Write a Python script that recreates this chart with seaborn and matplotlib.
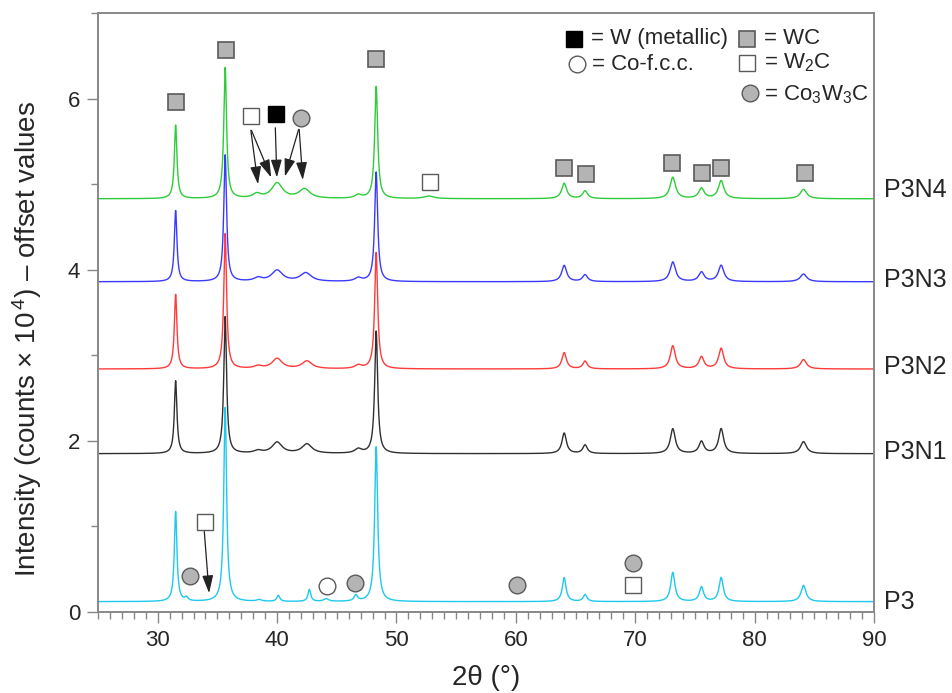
import numpy as np
import pandas as pd
import matplotlib
matplotlib.use("Agg")
import matplotlib.pyplot as plt
import seaborn as sns
from matplotlib.ticker import MultipleLocator

# ---- diffraction data: baseline offset, peak centres (2theta), net heights, FWHM ----
samples = ["P3", "P3N1", "P3N2", "P3N3", "P3N4"]
colors = ["#1ec8ee", "#303030", "#ff3a3a", "#3a3aff", "#2ecc3a"]
baselines = [0.12, 1.85, 2.84, 3.86, 4.83]

p3_pos = [31.5, 32.4, 35.65, 38.5, 40.1, 42.7, 44.1, 46.6, 48.3, 64.05, 65.8, 73.15, 75.55, 77.2, 84.1]
p3_hgt = [1.05, 0.04, 2.27, 0.02, 0.07, 0.14, 0.03, 0.07, 1.81, 0.28, 0.08, 0.34, 0.17, 0.28, 0.19]
p3_fwhm = [0.26, 0.3, 0.28, 0.5, 0.3, 0.28, 0.5, 0.35, 0.3, 0.38, 0.38, 0.42, 0.42, 0.42, 0.5]

p3n1_pos = [31.5, 35.65, 38.4, 40.0, 42.5, 46.8, 48.3, 64.05, 65.8, 73.15, 75.55, 77.2, 84.1]
p3n1_hgt = [0.85, 1.60, 0.03, 0.13, 0.11, 0.05, 1.43, 0.24, 0.10, 0.29, 0.14, 0.29, 0.14]
p3n1_fwhm = [0.26, 0.28, 0.8, 1.0, 1.0, 0.7, 0.3, 0.45, 0.45, 0.5, 0.5, 0.5, 0.6]

p3n2_pos = [31.5, 35.65, 38.4, 40.0, 42.5, 46.8, 48.3, 64.05, 65.8, 73.15, 75.55, 77.2, 84.1]
p3n2_hgt = [0.87, 1.58, 0.03, 0.12, 0.09, 0.04, 1.36, 0.19, 0.09, 0.27, 0.14, 0.24, 0.11]
p3n2_fwhm = [0.26, 0.28, 0.8, 1.0, 1.0, 0.7, 0.3, 0.45, 0.45, 0.5, 0.5, 0.5, 0.6]

p3n3_pos = [31.5, 35.65, 38.4, 40.0, 42.4, 46.8, 48.3, 64.05, 65.8, 73.15, 75.55, 77.2, 84.1]
p3n3_hgt = [0.83, 1.48, 0.04, 0.13, 0.10, 0.04, 1.28, 0.19, 0.08, 0.23, 0.11, 0.19, 0.09]
p3n3_fwhm = [0.26, 0.28, 0.8, 1.1, 1.1, 0.7, 0.3, 0.5, 0.5, 0.55, 0.55, 0.55, 0.65]

p3n4_pos = [31.5, 35.65, 38.3, 40.0, 42.3, 46.8, 48.3, 52.7, 64.05, 65.8, 73.15, 75.55, 77.2, 84.1]
p3n4_hgt = [0.86, 1.53, 0.05, 0.18, 0.11, 0.04, 1.31, 0.03, 0.18, 0.09, 0.25, 0.12, 0.21, 0.11]
p3n4_fwhm = [0.26, 0.28, 0.8, 1.1, 1.1, 0.7, 0.3, 1.0, 0.5, 0.5, 0.55, 0.55, 0.55, 0.65]

peak_tables = [
    (p3_pos, p3_hgt, p3_fwhm),
    (p3n1_pos, p3n1_hgt, p3n1_fwhm),
    (p3n2_pos, p3n2_hgt, p3n2_fwhm),
    (p3n3_pos, p3n3_hgt, p3n3_fwhm),
    (p3n4_pos, p3n4_hgt, p3n4_fwhm),
]

# ---- phase markers: (2theta, y) ----
wc_x = [31.5, 35.7, 48.3, 64.0, 65.9, 73.1, 75.6, 77.2, 84.2]
wc_y = [5.96, 6.57, 6.47, 5.19, 5.12, 5.25, 5.13, 5.19, 5.13]
w2c_x = [37.8, 52.8, 33.95, 69.85]
w2c_y = [5.80, 5.03, 1.05, 0.32]
w_x = [39.9]
w_y = [5.82]
co3w3c_x = [42.0, 32.7, 46.5, 60.1, 69.8]
co3w3c_y = [5.78, 0.42, 0.34, 0.32, 0.57]
cofcc_x = [44.2]
cofcc_y = [0.30]

# arrows: (start x, start y, end x, end y)
arrows = [
    (37.8, 5.63, 38.4, 5.00),
    (37.85, 5.63, 39.5, 5.08),
    (39.85, 5.66, 39.98, 5.08),
    (41.8, 5.64, 40.65, 5.09),
    (41.85, 5.64, 42.15, 5.05),
    (33.9, 0.94, 34.3, 0.22),
]

# ---- build long-form table of the patterns ----
tt = np.linspace(25, 90, 6501)
frames = []
for name, base, (pos, hgt, fw) in zip(samples, baselines, peak_tables):
    y = np.full_like(tt, base)
    for p, h, w in zip(pos, hgt, fw):
        g = w / 2.0
        y += h * g**2 / ((tt - p) ** 2 + g**2)
    frames.append(pd.DataFrame({"two_theta": tt, "intensity": y, "sample": name}))
df = pd.concat(frames, ignore_index=True)

sns.set_theme(style="white")
plt.rcParams["font.family"] = ["Liberation Sans", "DejaVu Sans"]
plt.rcParams["mathtext.fontset"] = "custom"
plt.rcParams["mathtext.rm"] = "Liberation Sans"
plt.rcParams["mathtext.it"] = "Liberation Sans:italic"

fig = plt.figure(figsize=(9.52, 6.93), dpi=100)
ax = fig.add_axes([0.103, 0.117, 0.815, 0.864])

sns.lineplot(data=df, x="two_theta", y="intensity", hue="sample",
             palette=dict(zip(samples, colors)), linewidth=1.0,
             legend=False, ax=ax, estimator=None, sort=False)

ms = 11.5
ax.plot(wc_x, wc_y, "s", ms=ms, mfc="#b4b4b4", mec="#5a5a5a", mew=1.2, ls="none")
ax.plot(w2c_x, w2c_y, "s", ms=ms, mfc="white", mec="#5a5a5a", mew=1.0, ls="none")
ax.plot(w_x, w_y, "s", ms=ms, mfc="black", mec="black", mew=1.0, ls="none")
ax.plot(co3w3c_x, co3w3c_y, "o", ms=ms + 0.5, mfc="#b4b4b4", mec="#5a5a5a", mew=1.0, ls="none")
ax.plot(cofcc_x, cofcc_y, "o", ms=ms + 0.5, mfc="white", mec="#5a5a5a", mew=1.0, ls="none")

for x0, y0, x1, y1 in arrows:
    ax.annotate("", xy=(x1, y1), xytext=(x0, y0),
                arrowprops=dict(arrowstyle="-|>,head_length=0.9,head_width=0.28",
                                color="#222222", lw=0.9, shrinkA=0, shrinkB=0))

# phase key in the upper right
key_fs = 16
ax.plot([64.9], [6.70], "s", ms=ms, mfc="black", mec="black", ls="none")
ax.text(66.3, 6.70, "= W (metallic)", fontsize=key_fs, va="center", ha="left")
ax.plot([79.4], [6.70], "s", ms=ms, mfc="#b4b4b4", mec="#5a5a5a", mew=1.2, ls="none")
ax.text(80.8, 6.70, "= WC", fontsize=key_fs, va="center", ha="left")
ax.plot([65.1], [6.40], "o", ms=ms + 0.5, mfc="white", mec="#5a5a5a", ls="none")
ax.text(66.4, 6.40, "= Co-f.c.c.", fontsize=key_fs, va="center", ha="left")
ax.plot([79.4], [6.42], "s", ms=ms, mfc="white", mec="#5a5a5a", ls="none")
ax.text(80.8, 6.42, "= W$_2$C", fontsize=key_fs, va="center", ha="left")
ax.plot([79.6], [6.07], "o", ms=ms + 0.5, mfc="#b4b4b4", mec="#5a5a5a", ls="none")
ax.text(80.8, 6.05, "= Co$_3$W$_3$C", fontsize=key_fs, va="center", ha="left")

# sample names at the right edge
label_y = [0.12, 1.87, 2.86, 3.88, 4.93]
for name, yy in zip(samples, label_y):
    ax.text(90.85, yy, name, fontsize=18, va="center", ha="left")

ax.set_xlim(25, 90)
ax.set_ylim(0, 7)
ax.xaxis.set_major_locator(MultipleLocator(10))
ax.xaxis.set_minor_locator(MultipleLocator(1))
ax.yaxis.set_major_locator(MultipleLocator(2))
ax.yaxis.set_minor_locator(MultipleLocator(1))
ax.tick_params(axis="both", which="major", direction="out", length=8, width=1.0,
               color="#888888", labelsize=16, pad=5)
ax.tick_params(axis="both", which="minor", direction="out", length=5, width=1.0,
               color="#888888")
ax.tick_params(axis="x", which="both", bottom=True, top=False)
ax.tick_params(axis="y", which="both", left=True, right=False)
for sp in ax.spines.values():
    sp.set_color("#888888")
    sp.set_linewidth(1.4)

ax.set_xlabel("2θ (°)", fontsize=20, labelpad=10)
ax.set_ylabel("Intensity (counts × 10$^{\\,4}$) – offset values", fontsize=20)
ax.yaxis.set_label_coords(-0.07, 0.455)

fig.savefig("out.png", dpi=100)
